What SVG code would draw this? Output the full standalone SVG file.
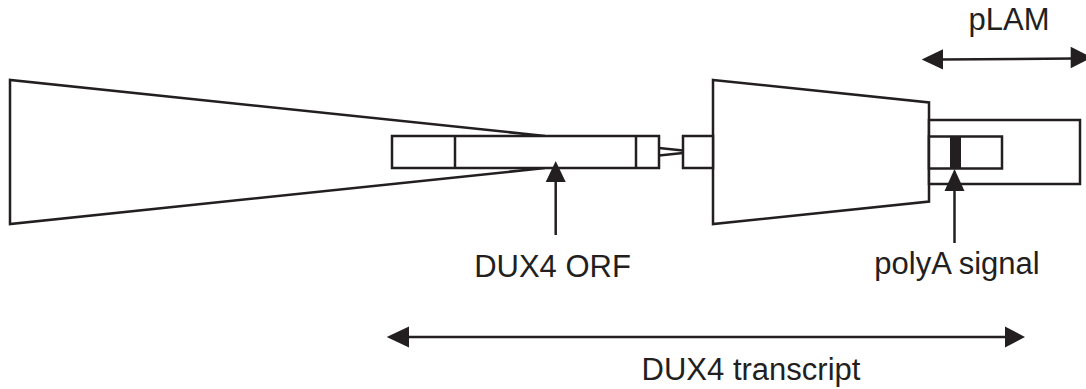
<svg xmlns="http://www.w3.org/2000/svg" width="1086" height="389" viewBox="0 0 1086 389">
<style>
.o{fill:#fff;stroke:#231f20;stroke-width:2.5;stroke-linejoin:miter}
.l{fill:none;stroke:#231f20;stroke-width:2.5}
.h{fill:#231f20;stroke:none}
text{font-family:"Liberation Sans",Arial,sans-serif;font-size:31px;fill:#231f20;text-anchor:middle}
</style>
<rect width="1086" height="389" fill="#fff"/>
<g id="left-region">
<polyline class="l" points="545,136 10,80 10,224 545,168"/>
</g>
<g id="dux4-unit">
<rect class="o" x="392" y="136" width="267" height="32"/>
<line class="l" x1="455" y1="136" x2="455" y2="168"/>
<line class="l" x1="636" y1="136" x2="636" y2="168"/>
</g>
<g id="right-region">
<polygon class="o" points="713,80 929,102.5 929,201.5 713,224"/>
</g>
<g id="small-box">
<rect class="o" x="683" y="136" width="30" height="32"/>
</g>
<g id="plam-box">
<rect class="o" x="929" y="120" width="151" height="64"/>
<rect class="o" x="929" y="136.5" width="73" height="32"/>
<rect class="h" x="950" y="136.5" width="11" height="32"/>
</g>
<g id="connectors">
<line class="l" x1="659" y1="148" x2="683" y2="150.5"/>
<line class="l" x1="659" y1="155.5" x2="683" y2="153"/>
<line class="l" x1="555.7" y1="180" x2="555.7" y2="235"/>
<polygon class="h" points="555.7,161 545.7,182 565.7,182"/>
<line class="l" x1="954.5" y1="189" x2="954.5" y2="243"/>
<polygon class="h" points="954.5,169 944.5,191 964.5,191"/>
<line class="l" x1="940" y1="59.5" x2="1074" y2="58.5"/>
<polygon class="h" points="921.7,59.5 943,49.3 943,69.5"/>
<polygon class="h" points="1092,57.5 1070.7,46.7 1070.7,68.3"/>
<line class="l" x1="405" y1="337" x2="1008" y2="337"/>
<polygon class="h" points="386.7,337 409,326.5 409,347.5"/>
<polygon class="h" points="1025,337 1005,326.5 1005,347.5"/>
</g>
<g id="labels">
<text x="1009" y="30">pLAM</text>
<text x="552.5" y="276.5">DUX4 ORF</text>
<text x="957" y="273.5">polyA signal</text>
<text x="751" y="380">DUX4 transcript</text>
</g>
</svg>
